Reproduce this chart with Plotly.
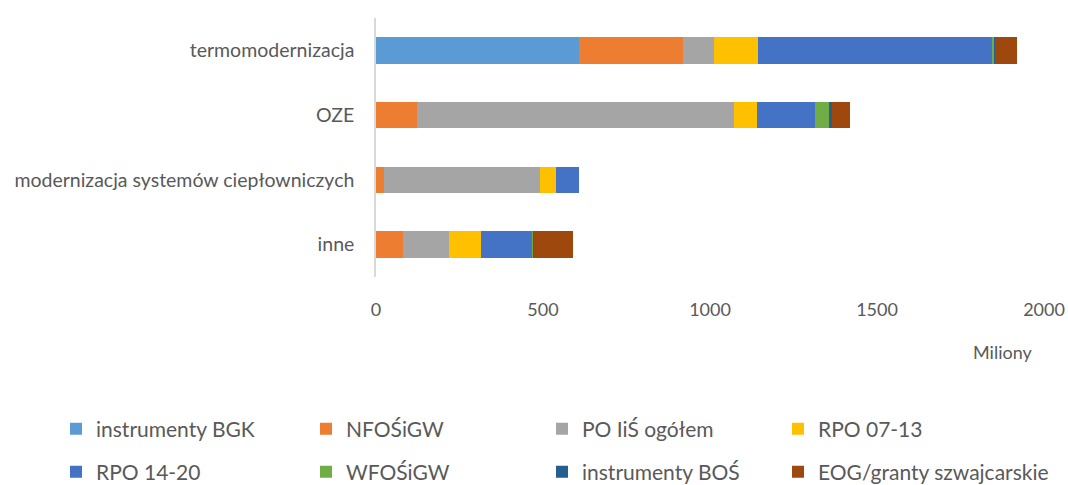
import plotly.graph_objects as go

categories = ["termomodernizacja", "OZE", "modernizacja systemów ciepłowniczych", "inne"]

series_names = ["instrumenty BGK", "NFOŚiGW", "PO IiŚ ogółem", "RPO 07-13",
                "RPO 14-20", "WFOŚiGW", "instrumenty BOŚ", "EOG/granty szwajcarskie"]

instrumenty_bgk = [609, 0, 0, 0]
nfosigw = [310, 123, 23, 80]
po_iis = [92, 949, 467, 138]
rpo_07_13 = [132, 69, 50, 95]
rpo_14_20 = [702, 173, 68, 156]
wfosigw = [6, 42, 0, 4]
instrumenty_bos = [1, 8, 0, 1]
eog_granty = [67, 55, 0, 117]

series_values = [instrumenty_bgk, nfosigw, po_iis, rpo_07_13,
                 rpo_14_20, wfosigw, instrumenty_bos, eog_granty]

x_ticks = [0, 500, 1000, 1500, 2000]

colors = ["#5B9BD5", "#ED7D31", "#A5A5A5", "#FFC000",
          "#4472C4", "#70AD47", "#255E91", "#9E480E"]

FONT = "Lato, 'Open Sans', sans-serif"
TXT = "#595959"

W, H = 1068, 485
L = 375.5
R = W - 1044.5
T = 17.7
B = H - 277

fig = go.Figure()
legend_ids = ["legend"] + [f"legend{i}" for i in range(2, 9)]
for i, (name, vals) in enumerate(zip(series_names, series_values)):
    fig.add_trace(go.Bar(
        y=categories, x=vals, name=name, orientation="h",
        marker=dict(color=colors[i], line=dict(width=0)),
        legend=legend_ids[i],
    ))

# legend placement (text start x in px, row center y in px)
text_x = [96, 346, 582, 818, 96, 346, 582, 818]
row_y = [429, 429, 429, 429, 472, 472, 472, 472]
legend_layouts = {}
for i, lid in enumerate(legend_ids):
    legend_layouts[lid] = dict(
        xref="container", yref="container",
        x=(text_x[i] - 40) / W, xanchor="left",
        y=1 - row_y[i] / H, yanchor="middle",
        orientation="h", bgcolor="rgba(0,0,0,0)",
        font=dict(family=FONT, size=21, color=TXT),
        itemclick=False,
    )

fig.update_layout(
    width=W, height=H,
    margin=dict(l=L, r=R, t=T, b=B, autoexpand=False),
    barmode="stack", bargap=0.59,
    plot_bgcolor="white", paper_bgcolor="white",
    font=dict(family=FONT, size=18, color=TXT),
    showlegend=True,
    **legend_layouts,
)

fig.update_xaxes(
    range=[0, 2000], tickvals=x_ticks, ticktext=[str(v) for v in x_ticks],
    showgrid=False, zeroline=False, showline=False,
    ticks="outside", ticklen=16, tickcolor="rgba(0,0,0,0)",
    tickfont=dict(family=FONT, size=18, color=TXT),
)
fig.update_yaxes(
    categoryorder="array", categoryarray=categories, autorange="reversed",
    showgrid=False, zeroline=False, showline=True, linecolor="#D9D9D9", linewidth=1.5,
    ticks="outside", ticklen=16, tickcolor="rgba(0,0,0,0)",
    tickfont=dict(family=FONT, size=19.5, color=TXT),
)

pw = W - L - R
ph = H - T - B
fig.add_annotation(
    text="Miliony", xref="paper", yref="paper",
    x=(1003 - L) / pw, y=((H - B) - 352) / ph,
    xanchor="center", yanchor="middle", showarrow=False,
    font=dict(family=FONT, size=18, color=TXT),
)

fig.write_html(
    "out.html",
    config={"displayModeBar": False},
    post_script="document.body.style.margin='0';document.body.style.overflow='hidden';",
)
